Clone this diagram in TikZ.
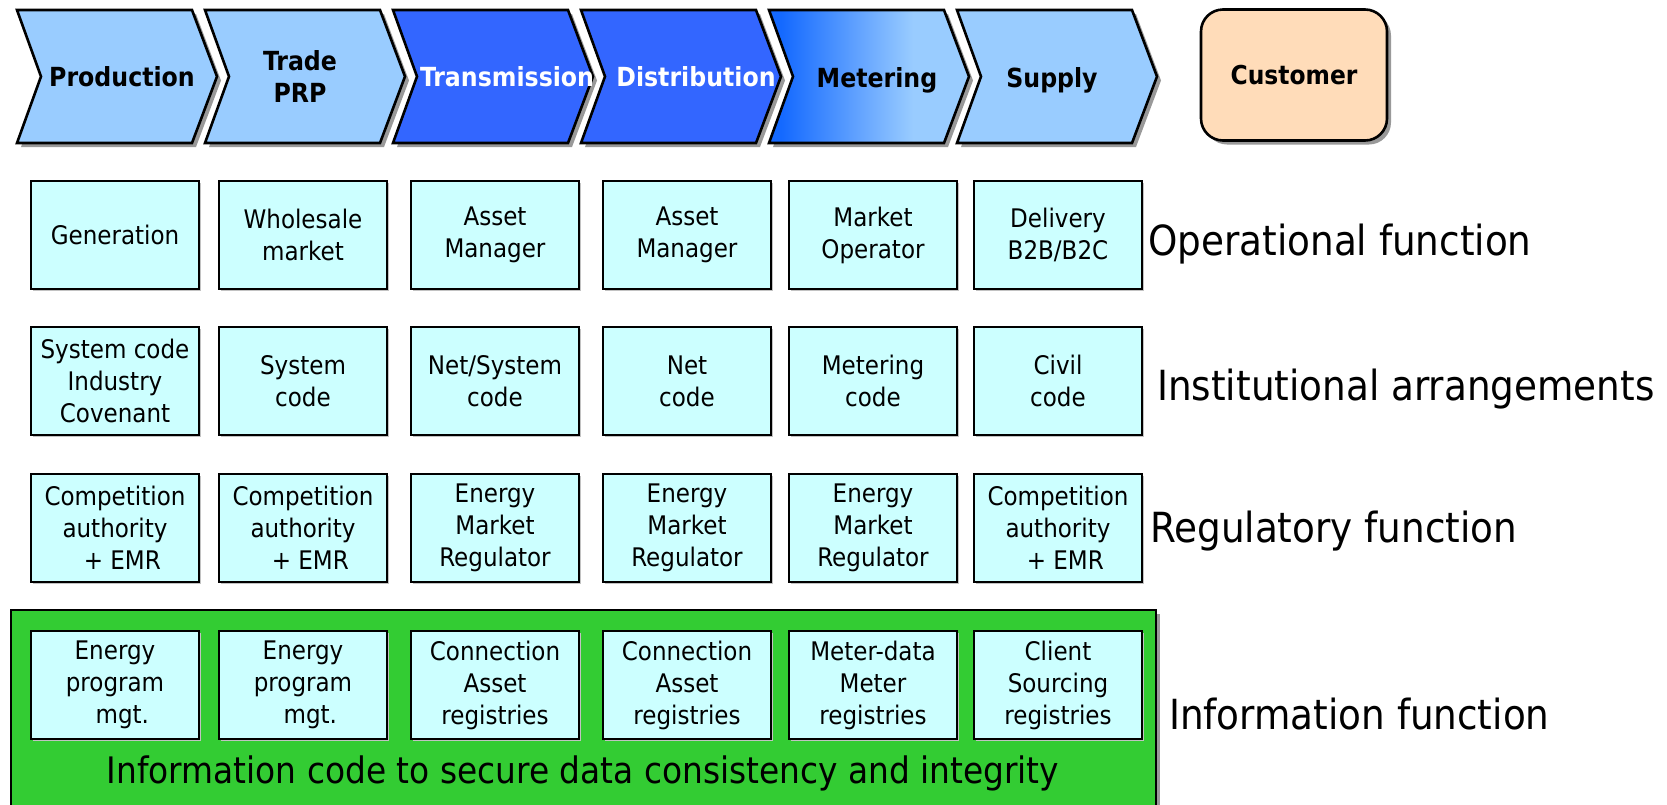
\documentclass[tikz,border=0pt]{standalone}
\usepackage{fontspec}
\setmainfont{DejaVu Sans Condensed}
\usetikzlibrary{positioning,shadows}

\definecolor{chevlight}{HTML}{99CCFF}
\definecolor{chevdark}{HTML}{3366FF}
\definecolor{meterblue}{HTML}{1469FF}
\definecolor{custpeach}{HTML}{FFDCB9}
\definecolor{cellcyan}{HTML}{CCFFFF}
\definecolor{infogreen}{HTML}{33CC33}
\definecolor{shadowgray}{HTML}{999999}

\pgfdeclarehorizontalshading{meterfade}{100bp}{color(0bp)=(meterblue); color(28bp)=(meterblue); color(61bp)=(chevlight); color(100bp)=(chevlight)}

\tikzset{
  chevline/.style={draw=black, line width=2.6pt, line join=miter,
    drop shadow={shadow xshift=4pt, shadow yshift=-4pt, fill=shadowgray, opacity=1}},
  chevtext/.style={font=\fontsize{26.3}{32}\selectfont\bfseries, align=center, inner sep=0pt},
  custbox/.style={draw=black, line width=2.6pt, fill=custpeach, rounded corners=22pt,
    minimum width=186pt, minimum height=131pt, font=\fontsize{26}{32}\selectfont\bfseries,
    drop shadow={shadow xshift=4pt, shadow yshift=-4pt, fill=shadowgray, opacity=1}},
  cellbox/.style={draw=black, line width=1.8pt, fill=cellcyan, minimum width=168pt,
    minimum height=108pt, inner sep=0pt, align=center, font=\fontsize{25.6}{32}\selectfont,
    drop shadow={shadow xshift=2pt, shadow yshift=-2pt, fill=shadowgray!60, opacity=1}},
  rowlabel/.style={anchor=west, inner sep=0pt, font=\fontsize{41.5}{48}\selectfont},
  infobox/.style={draw=black, line width=2pt, fill=infogreen, anchor=north west, inner sep=0pt,
    drop shadow={shadow xshift=4pt, shadow yshift=-4pt, fill=shadowgray, opacity=1}}
}

\begin{document}
\begin{tikzpicture}[x=1pt, y=-1pt]
  \useasboundingbox (0,0) rectangle (1667,804);

  % value chain
  \foreach \lx/\fillc in {17/chevlight, 205/chevlight, 393/chevdark, 581/chevdark, 957/chevlight}
    \draw[chevline, fill=\fillc] (\lx,10) -- ++(175,0) -- ++(25,66.5) -- ++(-25,66.5)
      -- ++(-175,0) -- ++(24,-66.5) -- cycle;
  \shadedraw[chevline, shading=meterfade] (769,10) -- ++(175,0) -- ++(25,66.5) -- ++(-25,66.5)
      -- ++(-175,0) -- ++(24,-66.5) -- cycle;

  \node[chevtext] (production) at (122,77) {Production};
  \node[chevtext] (trade) at (300,77) {Trade\\PRP};
  \node[chevtext, text=white] (transmission) at (507,77) {Transmission};
  \node[chevtext, text=white] (distribution) at (696,77) {Distribution};
  \node[chevtext] (metering) at (877,80) {Metering};
  \node[chevtext] (supply) at (1052,80) {Supply};
  \node[custbox] (customer) at (1294,75) {Customer};

  % information function area
  \node[infobox, minimum width=1145pt, minimum height=210pt] (infoarea) at (10,609) {};
  \node[font=\fontsize{36.5}{42}\selectfont, inner sep=0pt] (infocode) at (583,773)
    {Information code to secure data consistency and integrity};

  % rows of functions
  \foreach \cx/\txt [count=\c] in {115/Generation, 303/{Wholesale\\market}, 495/{Asset\\Manager},
      687/{Asset\\Manager}, 873/{Market\\Operator}, 1058/{Delivery\\B2B/B2C}}
    \node[cellbox] (op\c) at (\cx,235) {\txt};
  \foreach \cx/\txt [count=\c] in {115/{System code\\Industry\\Covenant}, 303/{System\\code},
      495/{Net/System\\code}, 687/{Net\\code}, 873/{Metering\\code}, 1058/{Civil\\code}}
    \node[cellbox] (inst\c) at (\cx,381) {\txt};
  \foreach \cx/\txt [count=\c] in {115/{Competition\\authority\\\ \ + EMR}, 303/{Competition\\authority\\\ \ + EMR},
      495/{Energy\\Market\\Regulator}, 687/{Energy\\Market\\Regulator}, 873/{Energy\\Market\\Regulator},
      1058/{Competition\\authority\\\ \ + EMR}}
    \node[cellbox] (reg\c) at (\cx,528) {\txt};
  \foreach \cx/\txt [count=\c] in {115/{Energy\\program\\\ \ mgt.}, 303/{Energy\\program\\\ \ mgt.},
      495/{Connection\\Asset\\registries}, 687/{Connection\\Asset\\registries},
      873/{Meter-data\\Meter\\registries}, 1058/{Client\\Sourcing\\registries}}
    \node[cellbox] (info\c) at (\cx,685) {\txt};

  % row labels
  \node[rowlabel] (oplabel) at (1148,244) {Operational function};
  \node[rowlabel] (instlabel) at (1157,389) {Institutional arrangements};
  \node[rowlabel] (reglabel) at (1150,531) {Regulatory function};
  \node[rowlabel] (infolabel) at (1169,714) {Information function};
\end{tikzpicture}
\end{document}
